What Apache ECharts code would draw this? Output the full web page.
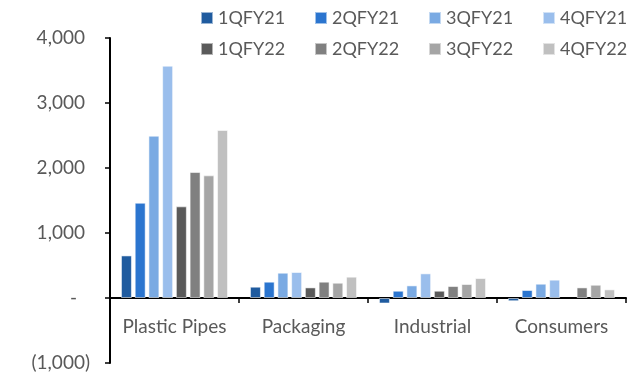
<!DOCTYPE html>
<html>
<head>
<meta charset="utf-8">
<script src="https://cdn.jsdelivr.net/npm/echarts@6/dist/echarts.min.js"></script>
<style>
  html, body { margin: 0; padding: 0; background: #fff; }
  #chart { width: 627px; height: 380px; }
</style>
</head>
<body>
<div id="chart"></div>
<script>
// Segment revenue by quarter, FY21 vs FY22
const categories = ['Plastic Pipes', 'Packaging', 'Industrial', 'Consumers'];
const quarters = ['1QFY21', '2QFY21', '3QFY21', '4QFY21', '1QFY22', '2QFY22', '3QFY22', '4QFY22'];

const q1fy21 = [655, 174, -85, -50];
const q2fy21 = [1466, 251, 112, 123];
const q3fy21 = [2497, 389, 194, 220];
const q4fy21 = [3574, 400, 379, 282];
const q1fy22 = [1410, 163, 112, null];
const q2fy22 = [1938, 251, 184, 163];
const q3fy22 = [1887, 235, 215, 204];
const q4fy22 = [2585, 328, 307, 133];

const yTicks = [-1000, 0, 1000, 2000, 3000, 4000];

const seriesValues = [q1fy21, q2fy21, q3fy21, q4fy21, q1fy22, q2fy22, q3fy22, q4fy22];
const palette = ['#1F5B9F', '#2B75CF', '#7AAAE3', '#9ABEEC', '#5A5A5A', '#808080', '#A5A5A5', '#C0C0C0'];

const FONT = 'Lato';
const TEXT = '#595959';

function thousands(v) {
  return String(v).replace(/\B(?=(\d{3})+(?!\d))/g, ',');
}

const W = 627, H = 380;
const GRID = { left: 110, right: 1, top: 38, bottom: 17 };
const yMin = yTicks[0], yMax = yTicks[yTicks.length - 1];
// lift the category axis (line, ticks and labels) up to the zero baseline
const plotH = H - GRID.top - GRID.bottom;
const zeroLift = (0 - yMin) / (yMax - yMin) * plotH;

const chart = echarts.init(document.getElementById('chart'), null, { renderer: 'canvas', width: W, height: H });

const legendBase = {
  orient: 'horizontal',
  left: 200,
  width: 480,
  itemWidth: 12,
  itemHeight: 12,
  itemGap: 12,
  icon: 'rect',
  selectedMode: false,
  padding: 0,
  textStyle: { color: TEXT, fontFamily: FONT, fontSize: 18, width: 84, lineHeight: 22 }
};

chart.setOption({
  animation: false,
  color: palette,
  legend: [
    Object.assign({}, legendBase, { top: 7, data: quarters.slice(0, 4) }),
    Object.assign({}, legendBase, { top: 38, data: quarters.slice(4) })
  ],
  grid: Object.assign({ containLabel: false, outerBoundsMode: 'none' }, GRID),
  xAxis: {
    type: 'category',
    data: categories,
    offset: -zeroLift,
    axisLine: { onZero: false, lineStyle: { color: '#000', width: 2 } },
    axisTick: { show: true, alignWithLabel: false, length: 5, inside: false, lineStyle: { color: '#000', width: 1.5 } },
    axisLabel: { color: TEXT, fontFamily: FONT, fontSize: 19, margin: 19, interval: 0 },
    splitLine: { show: false }
  },
  yAxis: {
    type: 'value',
    min: yMin,
    max: yMax,
    interval: 1000,
    axisLine: { show: true, lineStyle: { color: '#000', width: 2 } },
    axisTick: { show: true, length: 5, lineStyle: { color: '#000', width: 1.5 } },
    splitLine: { show: false },
    axisLabel: {
      margin: 20,
      color: TEXT,
      fontFamily: FONT,
      fontSize: 19,
      formatter: function (v) {
        if (v === 0) return '{z|-}';
        if (v < 0) return '{n|(' + thousands(-v) + ')}';
        return '{p|' + thousands(v) + '}';
      },
      rich: {
        z: { color: TEXT, fontFamily: FONT, fontSize: 19, padding: [0, 13, 0, 0] },
        n: { color: TEXT, fontFamily: FONT, fontSize: 19 },
        p: { color: TEXT, fontFamily: FONT, fontSize: 19, padding: [0, 5, 0, 0] }
      }
    }
  },
  series: quarters.map(function (name, i) {
    return {
      name: name,
      type: 'bar',
      data: seriesValues[i],
      barGap: '25%',
      barCategoryGap: '17%',
      itemStyle: { color: palette[i], borderColor: 'rgba(255,255,255,0.55)', borderWidth: 1 }
    };
  })
});
</script>
</body>
</html>
